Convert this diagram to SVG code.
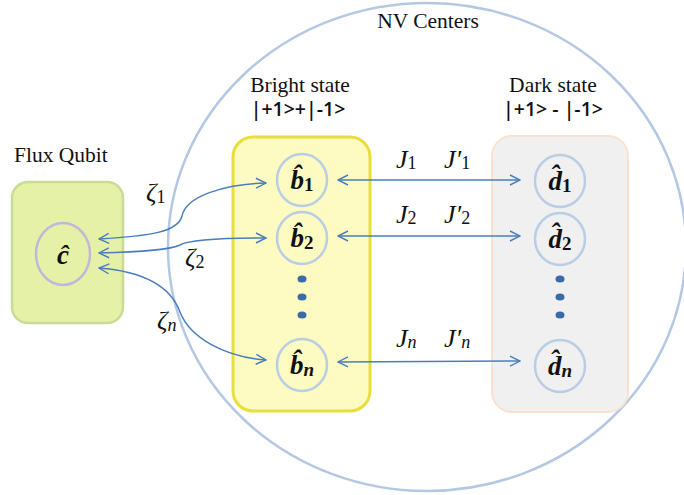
<svg xmlns="http://www.w3.org/2000/svg" width="684" height="495" viewBox="0 0 684 495">
  <defs>
    <marker id="arr" viewBox="0 0 12 12" refX="11" refY="6" markerWidth="12" markerHeight="12" markerUnits="userSpaceOnUse" orient="auto-start-reverse">
      <path d="M1,1 L11,6 L1,11" fill="none" stroke="#4a7ebb" stroke-width="1.4"/>
    </marker>
    <style>
      .title { font-family: "Liberation Serif", "DejaVu Serif", serif; font-size: 21.5px; fill: #111; }
      .ket { font-family: "Open Sans", "Liberation Sans", sans-serif; font-size: 19.5px; font-weight: 600; fill: #111; }
      .math { font-family: "Liberation Serif", "DejaVu Serif", serif; font-style: italic; font-size: 26px; fill: #111; }
      .sub { font-style: normal; font-size: 18px; }
      .subi { font-size: 18px; }
      .op { font-family: "Liberation Serif", "DejaVu Serif", serif; font-style: italic; font-weight: bold; font-size: 27px; fill: #111; text-anchor: middle; }
      .opsub { font-style: normal; font-size: 19px; }
      .opsubi { font-size: 19px; }
      .mode { fill: none; stroke: #b9cde5; stroke-width: 2.5; }
      .link { fill: none; stroke: #4a7ebb; stroke-width: 1.5; marker-start: url(#arr); marker-end: url(#arr); }
      .dot { fill: #3b6aa6; }
    </style>
  </defs>

  <!-- NV ensemble boundary -->
  <g id="nv-centers">
    <ellipse cx="427" cy="247" rx="259" ry="244" fill="none" stroke="#b4c8e4" stroke-width="2.5"/>
    <text class="title" x="428" y="28" text-anchor="middle">NV Centers</text>
  </g>

  <!-- flux qubit -->
  <g id="flux-qubit">
    <rect x="12" y="182" width="111" height="141" rx="16" fill="#e6f1a8" stroke="#c9db94" stroke-width="2.5"/>
    <text class="title" x="14" y="162">Flux Qubit</text>
    <ellipse cx="63" cy="254" rx="27" ry="31" fill="none" stroke="#c3b6d9" stroke-width="2.5"/>
    <text class="op" x="63" y="264" font-size="30">ĉ</text>
  </g>

  <!-- bright-state modes -->
  <g id="bright-state">
    <rect x="233" y="137" width="137" height="274" rx="20" fill="#fdfbc2" stroke="#e7df3c" stroke-width="3"/>
    <text class="title" x="300" y="92" text-anchor="middle">Bright state</text>
    <text class="ket" x="298" y="116" text-anchor="middle">|+1&gt;+|-1&gt;</text>
  </g>
  <g id="b1">
    <ellipse class="mode" cx="302" cy="180" rx="25" ry="26"/>
    <text class="op" x="302" y="189">b̂<tspan class="opsub" dy="2">1</tspan></text>
  </g>
  <g id="b2">
    <ellipse class="mode" cx="302" cy="238" rx="25" ry="26"/>
    <text class="op" x="302" y="247">b̂<tspan class="opsub" dy="2">2</tspan></text>
  </g>
  <g id="b-dots">
    <ellipse class="dot" cx="302" cy="279" rx="4.5" ry="3.5"/>
    <ellipse class="dot" cx="302" cy="297" rx="4.5" ry="3.5"/>
    <ellipse class="dot" cx="302" cy="315" rx="4.5" ry="3.5"/>
  </g>
  <g id="bn">
    <ellipse class="mode" cx="302" cy="365" rx="25" ry="26"/>
    <text class="op" x="302" y="374">b̂<tspan class="opsubi" dy="2">n</tspan></text>
  </g>

  <!-- dark-state modes -->
  <g id="dark-state">
    <rect x="492" y="136" width="136" height="276" rx="20" fill="#f0f0f0" stroke="#fbe2cf" stroke-width="2"/>
    <text class="title" x="553" y="92" text-anchor="middle">Dark state</text>
    <text class="ket" x="553" y="116" text-anchor="middle">|+1&gt; - |-1&gt;</text>
  </g>
  <g id="d1">
    <ellipse class="mode" cx="560" cy="181" rx="25" ry="26"/>
    <text class="op" x="560" y="190">d̂<tspan class="opsub" dy="2">1</tspan></text>
  </g>
  <g id="d2">
    <ellipse class="mode" cx="560" cy="239" rx="25" ry="26"/>
    <text class="op" x="560" y="248">d̂<tspan class="opsub" dy="2">2</tspan></text>
  </g>
  <g id="d-dots">
    <ellipse class="dot" cx="560" cy="279" rx="4.5" ry="3.5"/>
    <ellipse class="dot" cx="560" cy="297" rx="4.5" ry="3.5"/>
    <ellipse class="dot" cx="560" cy="315" rx="4.5" ry="3.5"/>
  </g>
  <g id="dn">
    <ellipse class="mode" cx="560" cy="366" rx="25" ry="26"/>
    <text class="op" x="560" y="375">d̂<tspan class="opsubi" dy="2">n</tspan></text>
  </g>

  <!-- couplings -->
  <g id="connectors">
    <path class="link" d="M99,239 C150,236 178,232 182,216 C186,196 225,184 266,183"/>
    <path class="link" d="M99,253 C140,252 170,250 180,245 C190,239 230,238 266,238"/>
    <path class="link" d="M99,268 C150,272 172,290 180,312 C190,338 225,357 266,360"/>
    <path class="link" d="M338,180 L520,180"/>
    <path class="link" d="M338,236 L520,236"/>
    <path class="link" d="M338,362 L520,361"/>
  </g>

  <!-- coupling labels -->
  <g id="labels">
    <text class="math" x="146" y="201">ζ<tspan class="sub" dy="2">1</tspan></text>
    <text class="math" x="185" y="266">ζ<tspan class="sub" dy="2">2</tspan></text>
    <text class="math" x="157" y="329">ζ<tspan class="subi" dy="2">n</tspan></text>
    <text class="math" x="396" y="168">J<tspan class="sub" dy="1">1</tspan></text>
    <text class="math" x="444" y="168">J′<tspan class="sub" dy="1">1</tspan></text>
    <text class="math" x="396" y="223">J<tspan class="sub" dy="1">2</tspan></text>
    <text class="math" x="444" y="223">J′<tspan class="sub" dy="1">2</tspan></text>
    <text class="math" x="396" y="347">J<tspan class="subi" dy="1">n</tspan></text>
    <text class="math" x="444" y="347">J′<tspan class="subi" dy="1">n</tspan></text>
  </g>
</svg>
